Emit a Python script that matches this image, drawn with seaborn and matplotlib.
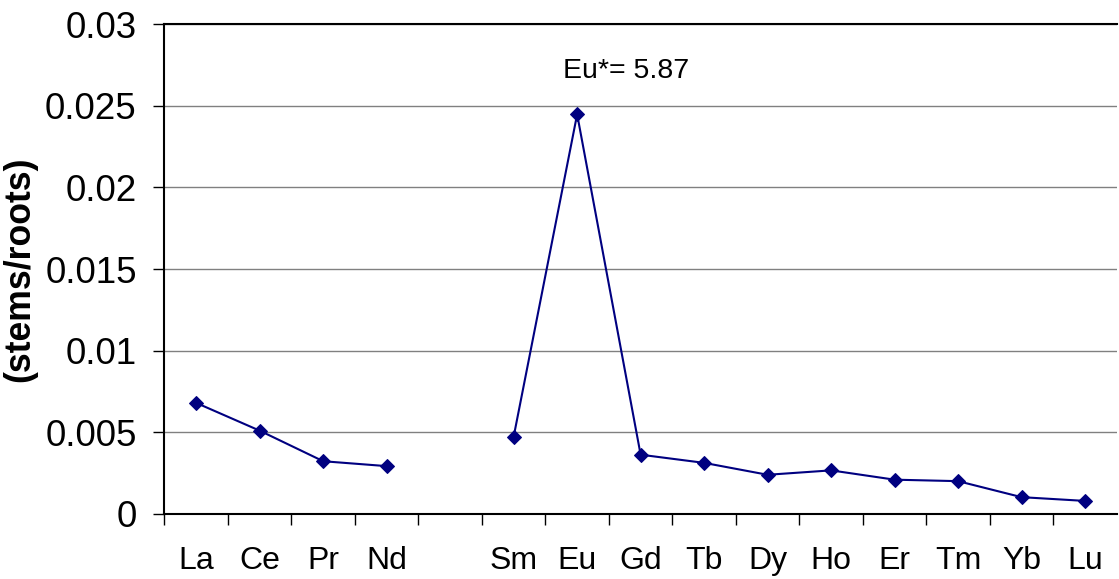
import numpy as np
import pandas as pd
import matplotlib
matplotlib.use("Agg")
import matplotlib.pyplot as plt
import seaborn as sns

# REE ratio data (Pm left blank)
elements = ["La", "Ce", "Pr", "Nd", "", "Sm", "Eu", "Gd", "Tb", "Dy", "Ho", "Er", "Tm", "Yb", "Lu"]
ratios = [0.0068, 0.0051, 0.00323, 0.00293, np.nan, 0.00473, 0.02447, 0.00363,
          0.00313, 0.0024, 0.00267, 0.0021, 0.00201, 0.00103, 0.0008]
segments = [0, 0, 0, 0, 0, 1, 1, 1, 1, 1, 1, 1, 1, 1, 1]
y_ticks = [0, 0.005, 0.01, 0.015, 0.02, 0.025, 0.03]

sns.set_style("white")
plt.rcParams['font.family'] = ['Liberation Sans', 'DejaVu Sans']
plt.rcParams['text.color'] = 'black'
plt.rcParams['axes.labelcolor'] = 'black'
plt.rcParams['xtick.color'] = 'black'
plt.rcParams['ytick.color'] = 'black'

df = pd.DataFrame({"pos": range(len(elements)), "ratio": ratios, "seg": segments})
df = df.dropna()

fig = plt.figure(figsize=(11.19, 5.79), dpi=100)
ax = fig.add_axes([0.147, 0.1123, 0.851, 0.8462])

sns.lineplot(data=df, x="pos", y="ratio", units="seg", estimator=None,
             color="#000080", linewidth=1.5, marker="D", markersize=7.5,
             markeredgecolor="#000080", ax=ax, legend=False)

ax.set_xlim(-0.5, len(elements) - 0.5)
ax.set_ylim(0, 0.03)

# gridlines
ax.set_yticks(y_ticks)
ax.set_yticklabels([f"{t:g}" for t in y_ticks], fontsize=26.5)
ax.yaxis.grid(True, color="#808080", linewidth=1)
ax.set_axisbelow(True)
ax.tick_params(axis="y", direction="out", length=8, width=1, pad=12, left=True)

# category boundaries as major ticks, labels on minor ticks
ax.set_xticks(np.arange(-0.5, len(elements) - 0.5, 1.0))
ax.set_xticklabels([])
ax.set_xticks(np.arange(len(elements)), minor=True)
ax.set_xticklabels(elements, minor=True, fontsize=23)
ax.tick_params(axis="x", which="major", direction="out", length=8, width=1, bottom=True)
ax.tick_params(axis="x", which="minor", length=0, pad=23)

for side in ["left", "bottom", "top"]:
    ax.spines[side].set_visible(True)
    ax.spines[side].set_color("black")
    ax.spines[side].set_linewidth(1.5)
ax.spines["right"].set_visible(False)

ax.set_xlabel("")
ax.set_ylabel("(stems/roots)", fontsize=25.7, fontweight="bold", labelpad=6)

ax.text(6.77, 0.0271, "Eu*= 5.87", fontsize=20.5, ha="center", va="center")

plt.savefig("out.png", dpi=100)
